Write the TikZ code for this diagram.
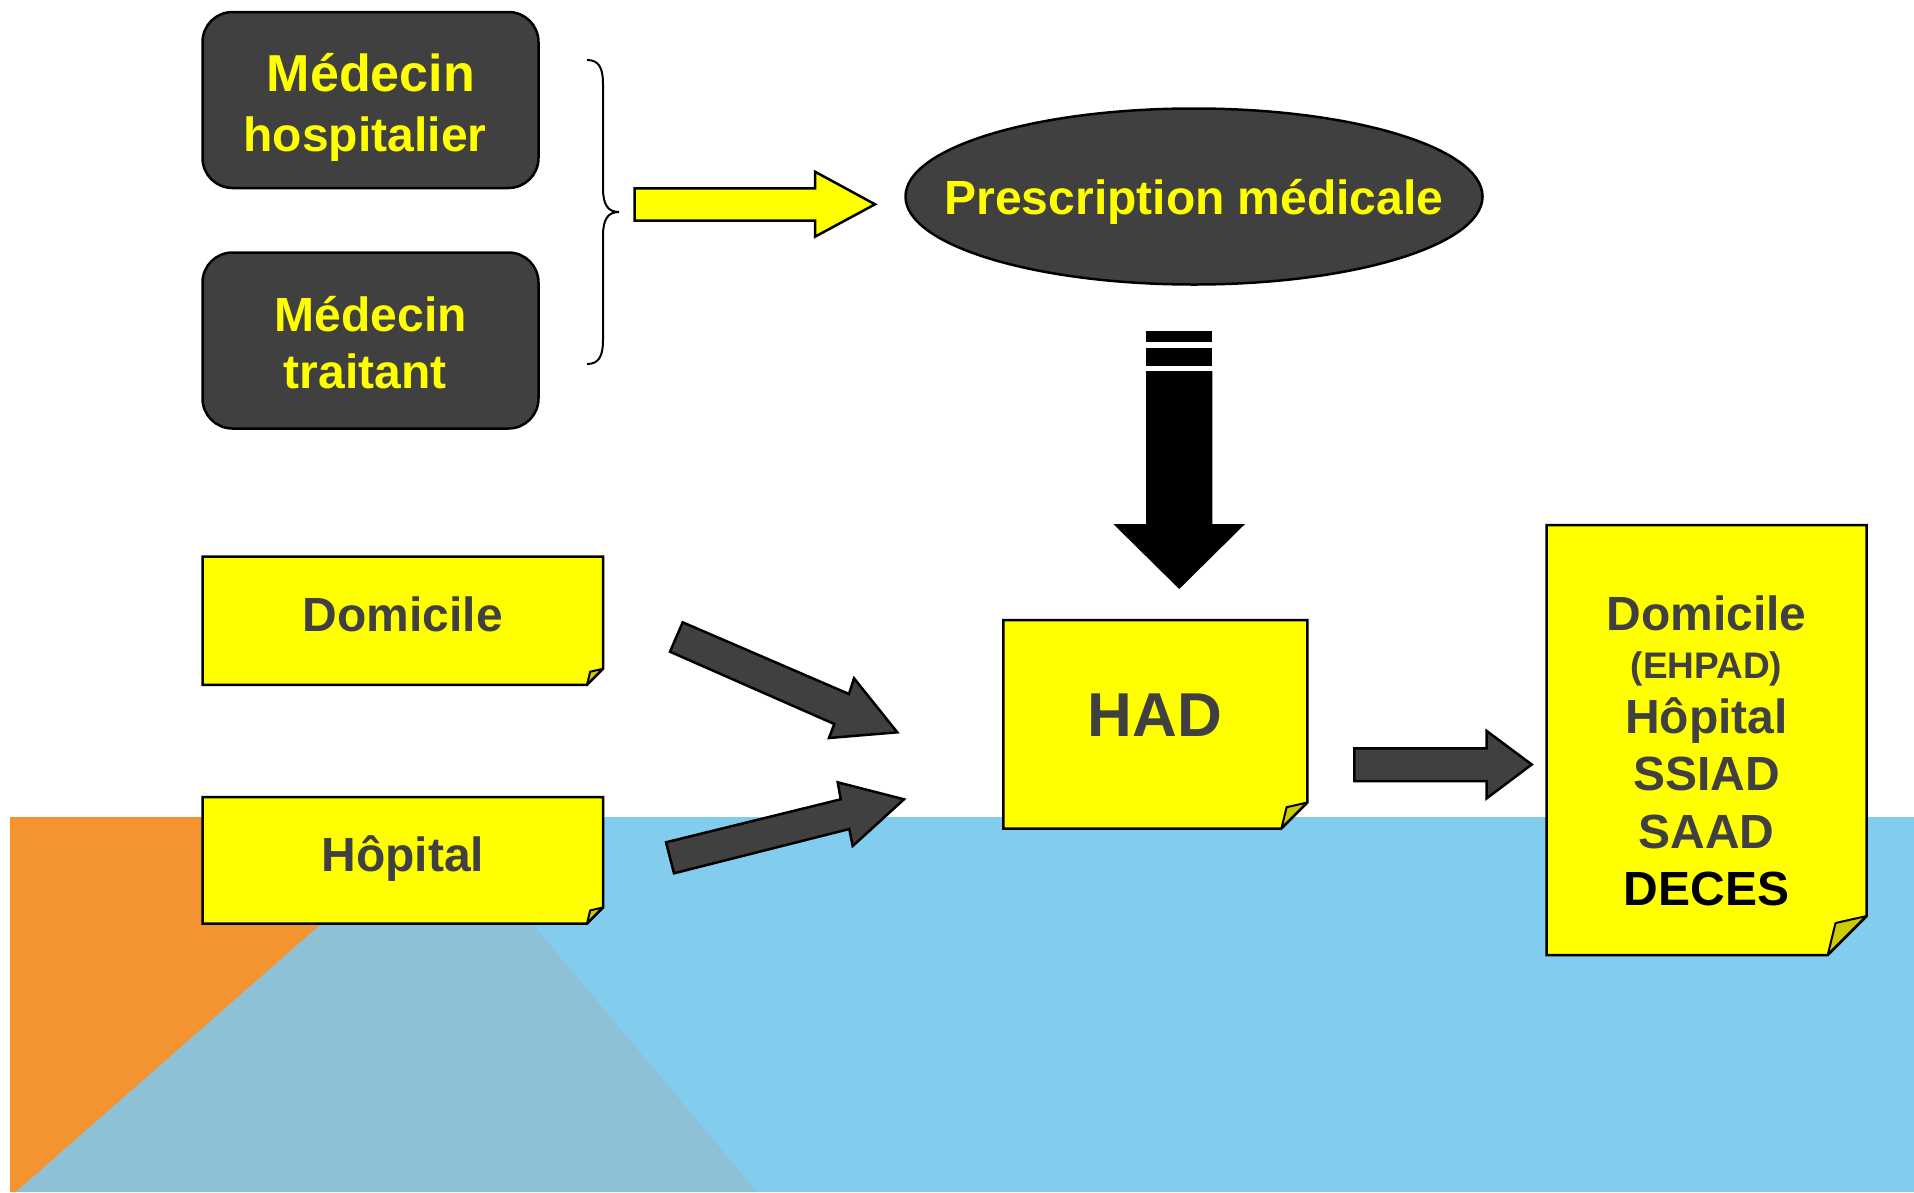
\documentclass[tikz,border=0pt]{standalone}
\usepackage{fontspec}
\setmainfont{Liberation Sans}
\usetikzlibrary{shapes.geometric}
\definecolor{dgray}{HTML}{404040}
\definecolor{ylw}{HTML}{FFFF00}
\definecolor{foldc}{HTML}{CCCC00}
\definecolor{bgblue}{HTML}{82CCEE}
\definecolor{bghatch}{HTML}{8FC1D6}
\definecolor{bgorange}{HTML}{F39431}
\newcommand{\fsz}[1]{\fontsize{#1}{#1}\selectfont\bfseries}
\newcommand{\notebox}[6]{%
  \fill[ylw] (#2,#3) -- (#4,#3) -- (#4,#5-#6) -- (#4-#6,#5) -- (#2,#5) -- cycle;
  \filldraw[fill=foldc, draw=black, line width=2pt, line join=round]
    (#4,#5-#6) -- (#4-0.8*#6,#5-0.82*#6) -- (#4-#6,#5) -- cycle;
  \draw[line width=2.5pt, line join=miter] (#2,#3) -- (#4,#3) -- (#4,#5-#6) -- (#4-#6,#5) -- (#2,#5) -- cycle;
  \node[inner sep=0, minimum width=#4-#2, minimum height=#5-#3] (#1) at ({(#2+#4)/2},{(#3+#5)/2}) {};
}
\tikzset{
  txt/.style={anchor=base, inner sep=0},
  darkbox/.style={draw=black, line width=2.5pt, fill=dgray, rounded corners=30pt, inner sep=0},
  blockarrow/.style={draw=black, line width=2.5pt, line join=miter},
}
\begin{document}
\begin{tikzpicture}[x=1pt, y=-1pt]
\useasboundingbox (0,0) rectangle (1914,1192);
\fill[white] (0,0) rectangle (1914,1192);
% background
\fill[bgblue] (10,817) rectangle (1914,1192);
\fill[bgorange] (10,817) -- (443,817) -- (16,1192) -- (10,1192) -- cycle;
\fill[bghatch] (443,817) -- (757,1192) -- (16,1192) -- cycle;

% doctor boxes
\node[darkbox, minimum width=336pt, minimum height=176pt] (hosp) at (370.5,100) {};
\node[txt, text=ylw, font=\fsz{52}] (hosp1) at (371,91) {Médecin};
\node[txt, text=ylw, font=\fsz{48}] (hosp2) at (365,151) {hospitalier};
\node[darkbox, minimum width=336pt, minimum height=176pt] (trait) at (370.5,340.5) {};
\node[txt, text=ylw, font=\fsz{48}] (trait1) at (371,331) {Médecin};
\node[txt, text=ylw, font=\fsz{48}] (trait2) at (365,388) {traitant};

% brace
\draw[line width=2pt] (587,60) .. controls (599,60) and (603,68) .. (603,84) -- (603,188)
  .. controls (603,205) and (608,212) .. (619,212)
  .. controls (608,212) and (603,219) .. (603,236) -- (603,340)
  .. controls (603,356) and (599,364) .. (587,364);

% yellow arrow
\filldraw[blockarrow, fill=ylw] (634.5,188.3) -- (815,188.3) -- (815,171.7) -- (875,204.3)
  -- (815,236.7) -- (815,220.7) -- (634.5,220.7) -- cycle;

% prescription
\node[ellipse, draw=black, line width=2.5pt, fill=dgray, minimum width=577pt, minimum height=176pt, inner sep=0] (presc) at (1194,196.5) {};
\node[txt, text=ylw, font=\fsz{48}] (presct) at (1194,214) {Prescription médicale};

% black arrow
\fill[black] (1146,331) rectangle (1212.3,341.5);
\fill[black] (1146,348) rectangle (1212.3,366);
\fill[black] (1146,371) -- (1212.3,371) -- (1212.3,524) -- (1245,524) -- (1179.2,589)
  -- (1113.3,524) -- (1146,524) -- cycle;

% origin boxes
\notebox{dom}{202.6}{556.6}{603}{684.8}{16}
\node[txt, text=dgray, font=\fsz{48}] (domt) at (402.8,631) {Domicile};
\notebox{hop}{202.6}{797}{603}{923.5}{16}
\node[txt, text=dgray, font=\fsz{48}] (hopt) at (402.8,871) {Hôpital};

% dark arrows to HAD
\filldraw[blockarrow, fill=dgray] (682.7,622.3) -- (849,694) -- (854,678.3) -- (897.3,732.3)
  -- (829,738) -- (834.3,724) -- (670,651.7) -- cycle;
\filldraw[blockarrow, fill=dgray] (666,842.3) -- (840.7,799.3) -- (837.7,782.3) -- (904,799.3)
  -- (852.7,846) -- (849.3,829) -- (674,873.3) -- cycle;

% HAD
\notebox{had}{1003.4}{620}{1307.4}{828.5}{26}
\node[txt, text=dgray, font=\fsz{62}] (hadt) at (1155,736) {HAD};

% arrow to outcomes
\filldraw[blockarrow, fill=dgray] (1354.3,748.3) -- (1486.7,748.3) -- (1486.7,731) -- (1531.7,764.5)
  -- (1486.7,798.3) -- (1486.7,781) -- (1354.3,781) -- cycle;

% outcomes
\notebox{out}{1546.6}{525}{1866.7}{955}{39}
\node[txt, text=dgray, font=\fsz{48}] (o1) at (1706.6,630) {Domicile};
\node[txt, text=dgray, font=\fsz{37}] (o2) at (1706.6,678) {(EHPAD)};
\node[txt, text=dgray, font=\fsz{48}] (o3) at (1706.6,733) {Hôpital};
\node[txt, text=dgray, font=\fsz{48}] (o4) at (1706.6,790.5) {SSIAD};
\node[txt, text=dgray, font=\fsz{48}] (o5) at (1706.6,848) {SAAD};
\node[txt, text=black, font=\fsz{48}] (o6) at (1706.6,905) {DECES};
\end{tikzpicture}
\end{document}
